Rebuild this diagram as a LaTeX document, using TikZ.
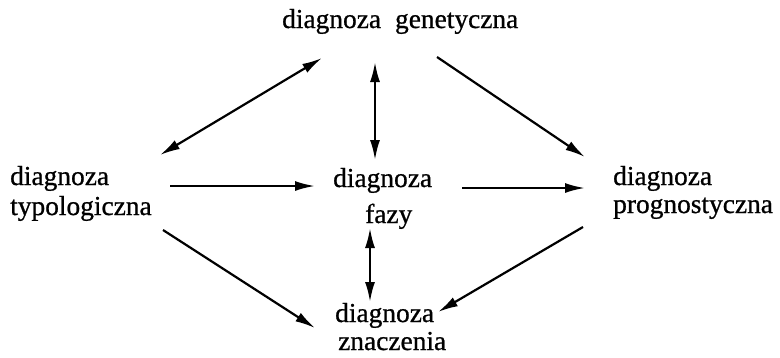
\documentclass[tikz,border=0pt]{standalone}
\usepackage{fontspec}
\setmainfont{Liberation Serif}[FakeBold=0.8]
\usetikzlibrary{arrows.meta}
\tikzset{
  lbl/.style={anchor=base west, inner sep=0pt, font=\fontsize{27.5}{30}\selectfont},
  tip/.tip={Latex[length=20bp,width=10bp]},
  link/.style={line width=2.2bp, -tip},
  both/.style={line width=2.2bp, tip-tip}
}
\begin{document}
\begin{tikzpicture}[x=1bp,y=-1bp]
\useasboundingbox (0,0) rectangle (780,357);
% labels, one node per printed line
\node[lbl] (gen)  at (282,28)  {diagnoza\hspace{14bp}genetyczna};
\node[lbl] (typA) at (10,185)  {diagnoza};
\node[lbl] (typB) at (10,215)  {typologiczna};
\node[lbl] (fazA) at (333,187) {diagnoza};
\node[lbl] (fazB) at (365,223) {fazy};
\node[lbl] (proA) at (613,185) {diagnoza};
\node[lbl] (proB) at (613,213) {prognostyczna};
\node[lbl] (znaA) at (335,322) {diagnoza};
\node[lbl] (znaB) at (338,350) {znaczenia};
% connectors
\draw[both] ([shift={(150,-30)}]typA.base west) -- ([shift={(40,30)}]gen.base west);
\draw[both] ([shift={(93,34)}]gen.base west) -- ([shift={(42,-27)}]fazA.base west);
\draw[link] ([shift={(155,29)}]gen.base west) -- ([shift={(-28,-28)}]proA.base west);
\draw[link] ([shift={(160,1)}]typA.base west) -- ([shift={(-18,-1)}]fazA.base west);
\draw[link] ([shift={(129,1)}]fazA.base west) -- ([shift={(-28,3)}]proA.base west);
\draw[link] ([shift={(153,15)}]typB.base west) -- ([shift={(-20,6)}]znaA.base west);
\draw[both] ([shift={(5,5)}]fazB.base west) -- ([shift={(35,-20)}]znaA.base west);
\draw[link] ([shift={(-30,14)}]proB.base west) -- ([shift={(103,-10)}]znaA.base west);
\end{tikzpicture}
\end{document}
